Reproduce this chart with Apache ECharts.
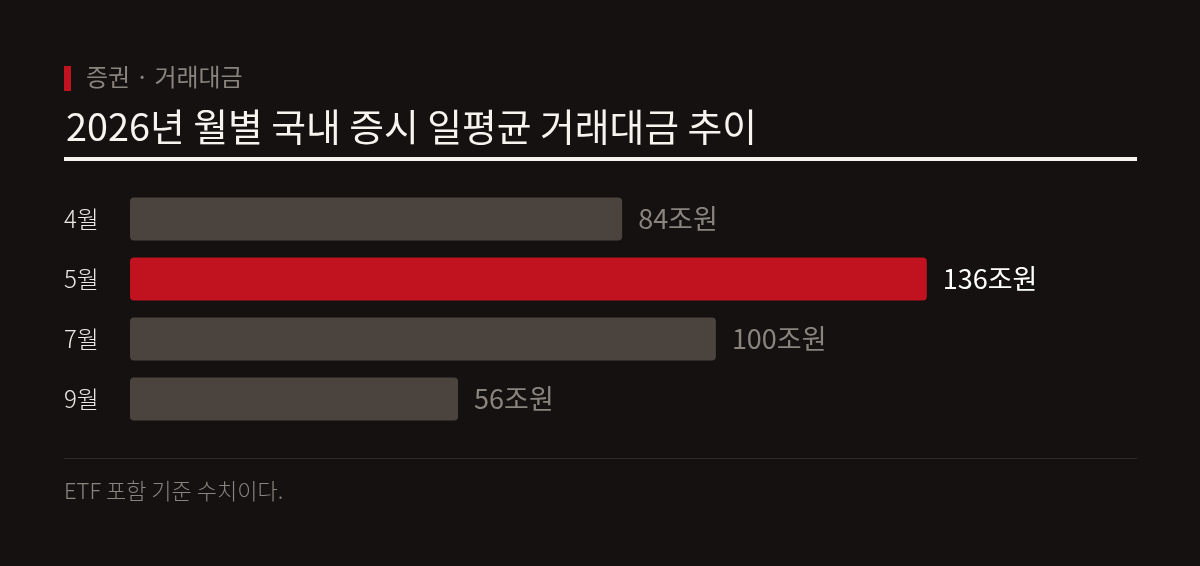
<!DOCTYPE html>
<html><head><meta charset="utf-8">
<script src="https://cdn.jsdelivr.net/npm/echarts@6/dist/echarts.min.js"></script>
<style>html,body{margin:0;padding:0;background:#141110;}#c{width:1200px;height:566px;}</style>
</head><body><div id="c"></div>
<script>
const categories = ['4월', '5월', '7월', '9월'];
const values = [84, 136, 100, 56];
const highlightIndex = 1;
const valueSuffix = '조원';

const FONT = '"Noto Sans CJK KR", "Noto Sans", sans-serif';
const chart = echarts.init(document.getElementById('c'));
chart.setOption({
  backgroundColor: '#141110',
  animation: false,
  title: [
    { text: '증권 · 거래대금', left: 81, top: 60, textStyle: { color: '#8a837e', fontSize: 24, fontWeight: 'normal', fontFamily: FONT } },
    { text: '2026년 월별 국내 증시 일평균 거래대금 추이', left: 61, top: 103, textStyle: { color: '#f7f4ef', fontSize: 37.8, fontWeight: 'normal', fontFamily: FONT } }
  ],
  graphic: [
    { type: 'rect', shape: { x: 64, y: 66, width: 7, height: 25 }, style: { fill: '#c0121f' } },
    { type: 'rect', shape: { x: 64, y: 157, width: 1073, height: 4 }, style: { fill: '#f7f4ef' } },
    { type: 'rect', shape: { x: 64, y: 458, width: 1073, height: 1 }, style: { fill: '#2e2a27' } },
    { type: 'text', left: 64, top: 480, style: { text: 'ETF 포함 기준 수치이다.', fill: '#8a837e', fontSize: 22, fontWeight: 300, fontFamily: FONT } }
  ],
  grid: { left: 130, top: 189, width: 996, height: 240, containLabel: false },
  xAxis: { type: 'value', min: 0, max: 170, show: false },
  yAxis: {
    type: 'category', data: categories, inverse: true,
    axisLine: { show: false }, axisTick: { show: false },
    axisLabel: { color: '#ece8e3', fontSize: 24, fontWeight: 300, fontFamily: FONT, align: 'left', margin: 66 }
  },
  series: [{
    type: 'bar', barWidth: 43,
    data: values.map((v, i) => ({
      value: v,
      itemStyle: { color: i === highlightIndex ? '#c0121f' : '#4a433e', borderRadius: 4 },
      label: { color: i === highlightIndex ? '#ffffff' : '#8a837e' }
    })),
    label: { show: true, position: 'right', distance: 16, fontSize: 27, fontFamily: FONT, fontWeight: 'normal',
      formatter: p => p.value + valueSuffix }
  }]
});
</script></body></html>
